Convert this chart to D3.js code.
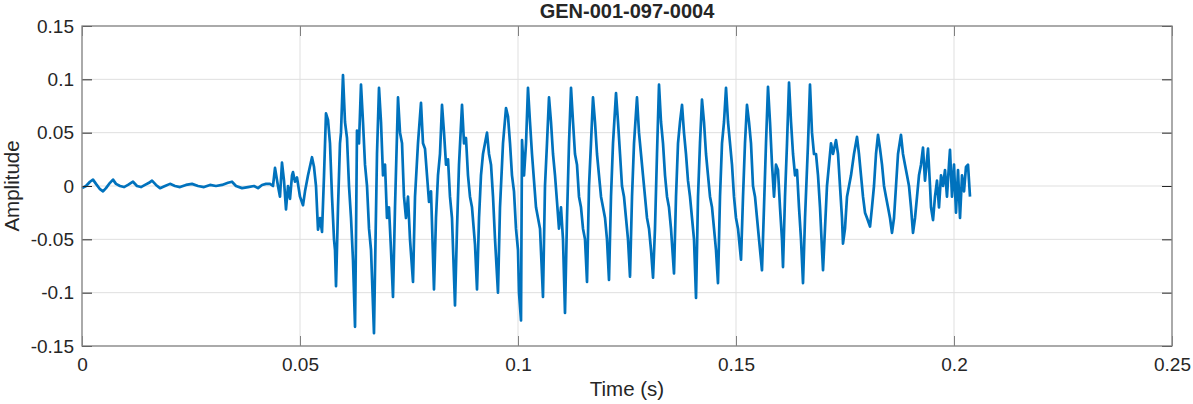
<!DOCTYPE html>
<html>
<head>
<meta charset="utf-8">
<script src="https://cdn.jsdelivr.net/npm/d3@7"></script>
<style>
  html, body { margin: 0; padding: 0; background: #fff; }
  svg { display: block; }
  text { font-family: "Liberation Sans", Arial, Helvetica, sans-serif; fill: #262626; }
</style>
</head>
<body>
<svg id="chart" width="1193" height="404"></svg>
<script>
// ---- Data ----
const chartTitle = "GEN-001-097-0004";
const xLabel = "Time (s)";
const yLabel = "Amplitude";
const xTicks = [0, 0.05, 0.1, 0.15, 0.2, 0.25];
const xTickLabels = ["0", "0.05", "0.1", "0.15", "0.2", "0.25"];
const yTicks = [-0.15, -0.1, -0.05, 0, 0.05, 0.1, 0.15];
const yTickLabels = ["-0.15", "-0.1", "-0.05", "0", "0.05", "0.1", "0.15"];
const xDomain = [0, 0.25];
const yDomain = [-0.15, 0.15];

// waveform key points: [time in ms, amplitude]
const waveform = [
  [0.00,-0.002],[0.92,0.000],[1.83,0.004],[2.52,0.006],[3.21,0.002],[4.13,-0.003],[4.82,-0.005],[5.50,-0.002],
  [6.42,0.003],[7.11,0.006],[7.80,0.002],[8.72,0.000],[9.63,-0.001],[10.55,0.001],[11.70,0.004],[12.61,0.000],
  [13.53,-0.001],[14.45,0.001],[15.37,0.003],[16.06,0.005],[16.97,0.001],[17.89,-0.002],[19.04,0.000],[20.18,0.002],
  [21.33,0.000],[22.48,-0.001],[23.85,0.001],[25.23,0.002],[26.61,0.000],[27.98,-0.001],[29.36,0.001],[30.73,0.000],
  [32.11,0.001],[33.49,0.003],[34.40,0.004],[35.32,0.000],[36.70,-0.002],[38.07,-0.001],[39.45,0.000],[40.37,-0.002],
  [41.29,0.001],[42.20,0.002],[43.12,0.002],[43.81,0.000],
  [44.27,0.017],[44.95,0.000],[45.41,-0.010],[45.87,0.022],[46.33,0.005],[46.79,-0.022],[47.25,0.000],[47.71,-0.012],
  [48.17,0.010],[48.39,0.013],[48.85,0.004],[49.31,0.008],[50.00,-0.010],[50.69,-0.018],[51.15,-0.005],[51.84,0.010],
  [52.75,0.027],[53.21,0.018],[53.67,0.000],[54.13,-0.041],[54.59,-0.030],[55.05,-0.043],[55.51,0.010],[55.96,0.068],
  [56.42,0.062],[56.88,0.040],[57.34,-0.010],[57.80,-0.050],[58.03,-0.060],[58.26,-0.094],[58.72,-0.020],[59.17,0.040],
  [59.40,0.050],[59.86,0.104],[60.32,0.060],[60.78,0.045],[61.24,0.000],[61.70,-0.030],[62.16,-0.070],[62.62,-0.132],
  [62.84,-0.050],[63.07,0.052],[63.53,0.040],[63.99,0.095],[64.45,0.060],[64.91,0.020],[65.37,0.000],[65.83,-0.040],
  [66.29,-0.060],[66.97,-0.138],[67.20,-0.080],[67.66,0.030],[68.12,0.092],[68.58,0.060],[69.04,0.010],[69.50,0.020],
  [69.95,-0.030],[70.41,-0.020],[70.87,-0.060],[71.33,-0.104],[71.79,-0.020],[72.48,0.083],[72.94,0.050],[73.40,0.040],
  [73.85,-0.010],[74.31,-0.030],[74.77,-0.010],[75.23,-0.050],[75.92,-0.090],[76.38,-0.010],[77.06,0.040],[77.75,0.078],
  [78.21,0.040],[78.67,0.035],[79.13,0.010],[79.59,-0.015],[80.05,-0.005],[80.73,-0.097],[81.19,-0.030],[81.65,0.010],
  [82.11,0.030],[82.57,0.076],[83.03,0.050],[83.49,0.020],[83.95,0.025],[84.40,-0.010],[84.86,-0.030],[85.55,-0.112],
  [86.01,-0.040],[86.47,0.020],[87.16,0.076],[87.62,0.040],[88.07,0.045],[88.53,0.010],[88.99,-0.010],[89.45,-0.020],
  [90.14,-0.055],[90.60,-0.097],[91.06,-0.030],[91.51,0.010],[91.97,0.030],[92.43,0.040],[92.89,0.050],[93.35,0.030],
  [93.81,0.020],[94.27,-0.010],[94.73,-0.050],[95.41,-0.100],[95.87,-0.020],[96.56,0.040],[97.25,0.073],[97.71,0.065],
  [98.17,0.040],[98.62,0.010],[99.08,-0.005],[99.54,-0.040],[100.00,-0.060],[100.23,-0.100],[100.69,-0.126],[100.92,0.043],
  [101.38,0.010],[101.84,0.040],[102.29,0.092],[102.75,0.060],[103.21,0.030],[103.67,0.005],[104.13,-0.020],[104.59,-0.030],
  [105.05,-0.040],[105.73,-0.104],[106.19,0.000],[106.65,0.040],[107.11,0.083],[107.57,0.060],[108.03,0.030],[108.49,0.010],
  [108.95,-0.015],[109.40,-0.040],[109.86,-0.020],[110.32,-0.050],[110.78,-0.119],[111.24,-0.030],[111.70,0.040],[112.16,0.092],
  [112.62,0.060],[113.07,0.030],[113.53,0.020],[113.99,-0.010],[114.45,-0.020],[114.91,-0.040],[115.37,-0.050],[115.83,-0.090],
  [116.29,0.000],[116.74,0.040],[117.20,0.083],[117.66,0.060],[118.12,0.030],[118.58,0.010],[119.04,-0.010],[119.50,-0.020],
  [119.96,-0.030],[120.41,-0.050],[120.87,-0.088],[121.33,-0.010],[121.79,0.040],[122.48,0.087],[122.94,0.060],[123.40,0.030],
  [123.85,0.000],[124.31,-0.010],[124.77,-0.030],[125.23,-0.050],[125.69,-0.085],[126.15,-0.010],[126.61,0.040],[127.29,0.083],
  [127.75,0.050],[128.21,0.030],[128.67,0.010],[129.13,-0.010],[129.59,-0.030],[130.05,-0.040],[130.51,-0.060],[130.97,-0.086],
  [131.42,-0.040],[131.88,0.030],[132.34,0.095],[132.80,0.060],[133.26,0.040],[133.72,0.010],[134.18,-0.010],[134.63,-0.020],
  [135.09,-0.040],[135.78,-0.082],[136.24,-0.010],[136.70,0.040],[137.16,0.060],[137.62,0.076],[138.07,0.050],[138.53,0.030],
  [138.99,0.005],[139.45,-0.010],[139.91,-0.030],[140.37,-0.050],[140.83,-0.105],[141.29,-0.010],[141.74,0.040],[142.20,0.081],
  [142.66,0.060],[143.12,0.030],[143.58,0.010],[144.04,-0.010],[144.50,-0.020],[144.96,-0.040],[145.41,-0.060],[145.87,-0.091],
  [146.33,-0.010],[146.79,0.040],[147.25,0.060],[147.71,0.092],[148.17,0.060],[148.63,0.040],[149.08,0.020],[149.54,-0.010],
  [150.00,-0.030],[150.46,-0.040],[151.15,-0.069],[151.61,-0.010],[152.06,0.040],[152.52,0.076],[152.98,0.060],[153.44,0.040],
  [153.90,0.000],[154.36,-0.010],[154.82,-0.030],[155.28,-0.050],[155.96,-0.079],[156.42,-0.020],[156.88,0.040],[157.34,0.093],
  [157.80,0.060],[158.26,0.020],[158.72,-0.010],[159.17,0.020],[159.63,0.015],[160.09,-0.020],[160.55,-0.050],[160.78,-0.076],
  [161.24,-0.010],[161.70,0.040],[162.16,0.097],[162.62,0.060],[163.08,0.030],[163.54,0.010],[163.99,0.015],[164.45,-0.020],
  [164.91,-0.050],[165.37,-0.091],[165.83,-0.030],[166.52,0.040],[166.97,0.095],[167.43,0.050],[167.89,0.030],[168.35,0.030],
  [168.81,0.010],[169.27,-0.020],[169.73,-0.060],[169.96,-0.079],[170.41,-0.040],[170.87,0.000],[171.33,0.020],[171.79,0.040],
  [172.25,0.030],[172.94,0.043],[173.40,0.030],[173.85,0.000],[174.31,-0.030],[174.54,-0.054],[175.00,-0.040],[175.46,-0.010],
  [175.92,0.000],[176.38,0.010],[177.06,0.030],[177.75,0.046],[178.21,0.030],[178.67,0.010],[179.13,-0.010],[179.59,-0.025],
  [180.05,-0.030],[180.74,-0.038],[181.19,-0.020],[181.65,0.000],[182.11,0.030],[182.57,0.048],[183.03,0.035],[183.49,0.020],
  [183.95,0.000],[184.40,-0.010],[184.86,-0.020],[185.32,-0.030],[185.78,-0.044],[186.24,-0.030],[186.70,0.000],[187.16,0.030],
  [187.84,0.048],[188.30,0.030],[188.76,0.020],[189.22,0.010],[189.68,0.000],[190.14,-0.020],[190.60,-0.044],[191.06,-0.030],
  [191.52,-0.010],[191.97,0.010],[192.43,0.020],[192.89,0.036],[193.35,0.005],[194.04,0.035],[194.50,0.000],[194.73,-0.020],
  [195.19,-0.032],[195.64,-0.010],[196.10,0.005],[196.56,-0.020],[197.02,0.010],[197.48,0.000],[197.94,0.015],[198.39,-0.010],
  [198.85,0.020],[199.08,0.034],[199.54,-0.010],[200.00,0.020],[200.46,-0.025],[200.92,0.015],[201.38,-0.030],[201.84,0.010],
  [202.30,-0.005],[202.75,0.018],[203.21,0.020],[203.67,-0.010]
];

// ---- Layout ----
const svg = d3.select("#chart");
const plotLeft = 82, plotRight = 1172, plotTop = 26, plotBottom = 346;

const x = d3.scaleLinear().domain(xDomain).range([plotLeft, plotRight]);
const y = d3.scaleLinear().domain(yDomain).range([plotBottom, plotTop]);

// grid
const grid = svg.append("g");
grid.selectAll("line.vx").data(xTicks).enter().append("line")
  .attr("x1", d => x(d)).attr("x2", d => x(d))
  .attr("y1", plotTop).attr("y2", plotBottom)
  .attr("stroke", "#dfdfdf").attr("stroke-width", 1);
grid.selectAll("line.hy").data(yTicks).enter().append("line")
  .attr("y1", d => y(d)).attr("y2", d => y(d))
  .attr("x1", plotLeft).attr("x2", plotRight)
  .attr("stroke", "#dfdfdf").attr("stroke-width", 1);

// waveform
const line = d3.line()
  .x(d => x(d[0] / 1000))
  .y(d => y(d[1]));
svg.append("path")
  .datum(waveform)
  .attr("d", line)
  .attr("fill", "none")
  .attr("stroke", "#0072BD")
  .attr("stroke-width", 2.7)
  .attr("stroke-linejoin", "round");

// axes
const tickLen = 10;
const xAxisB = d3.axisBottom(x).tickValues(xTicks).tickSizeInner(-tickLen).tickSizeOuter(0)
  .tickFormat((d, i) => xTickLabels[i]).tickPadding(12);
const xAxisT = d3.axisTop(x).tickValues(xTicks).tickSizeInner(-tickLen).tickSizeOuter(0).tickFormat("");
const yAxisL = d3.axisLeft(y).tickValues(yTicks).tickSizeInner(-tickLen).tickSizeOuter(0)
  .tickFormat((d, i) => yTickLabels[i]).tickPadding(8);
const yAxisR = d3.axisRight(y).tickValues(yTicks).tickSizeInner(-tickLen).tickSizeOuter(0).tickFormat("");

function styleAxis(g, tickColor) {
  g.select(".domain").remove();
  g.selectAll(".tick line").attr("stroke", tickColor).attr("stroke-width", 1);
  g.selectAll(".tick text").attr("fill", "#262626").style("font-size", "19px")
    .style("font-family", '"Liberation Sans", Arial, sans-serif');
}
svg.append("g").attr("transform", `translate(0,${plotBottom})`).call(xAxisB).call(g => styleAxis(g, "#808080"));
svg.append("g").attr("transform", `translate(0,${plotTop})`).call(xAxisT).call(g => styleAxis(g, "#808080"));
svg.append("g").attr("transform", `translate(${plotLeft},0)`).call(yAxisL).call(g => styleAxis(g, "#262626"));
svg.append("g").attr("transform", `translate(${plotRight},0)`).call(yAxisR).call(g => styleAxis(g, "#262626"));

// box
svg.append("rect")
  .attr("x", plotLeft).attr("y", plotTop)
  .attr("width", plotRight - plotLeft).attr("height", plotBottom - plotTop)
  .attr("fill", "none").attr("stroke", "#858585").attr("stroke-width", 1.3);

// title and labels
svg.append("text").attr("x", (plotLeft + plotRight) / 2).attr("y", 18)
  .attr("text-anchor", "middle").style("font-size", "20px").style("font-weight", "bold")
  .text(chartTitle);
svg.append("text").attr("x", (plotLeft + plotRight) / 2).attr("y", 396)
  .attr("text-anchor", "middle").style("font-size", "20.5px")
  .text(xLabel);
svg.append("text").attr("transform", `translate(19,${(plotTop + plotBottom) / 2}) rotate(-90)`)
  .attr("text-anchor", "middle").style("font-size", "20.5px")
  .text(yLabel);
</script>
</body>
</html>
